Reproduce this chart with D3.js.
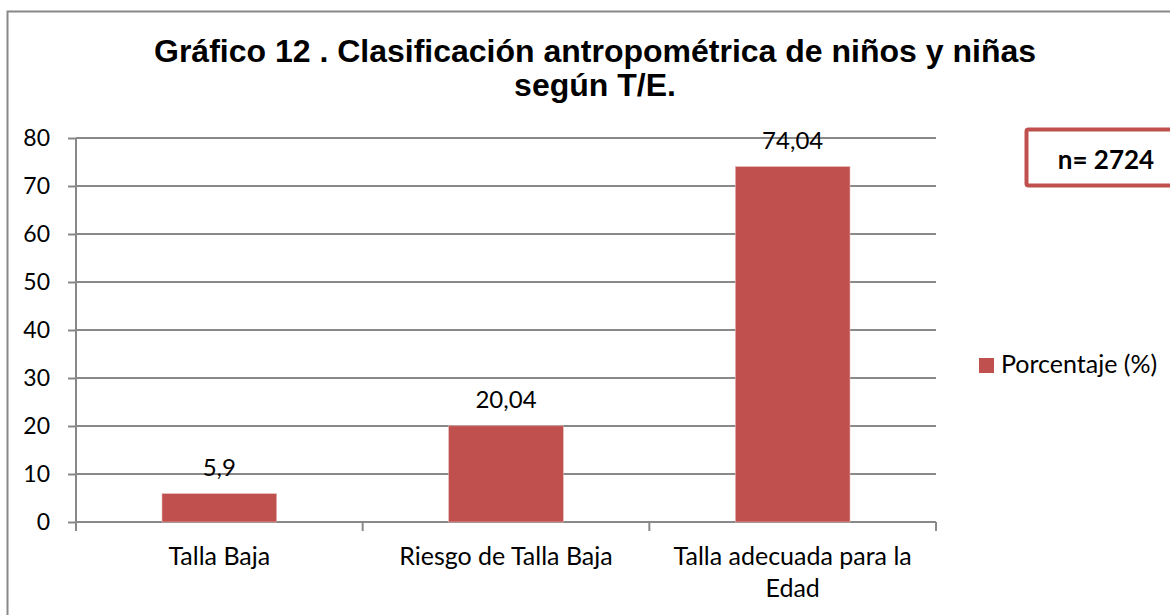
<!DOCTYPE html>
<html><head><meta charset="utf-8">
<script src="https://cdn.jsdelivr.net/npm/d3@7"></script>
<style>body{margin:0;background:#fff}svg{display:block}</style>
</head><body>
<svg id="c" width="1170" height="615"></svg>
<script>
const categories = [["Talla Baja"], ["Riesgo de Talla Baja"], ["Talla adecuada para la", "Edad"]];
const values = [5.9, 20.04, 74.04];
const valueLabels = ["5,9", "20,04", "74,04"];
const yTicks = [0, 10, 20, 30, 40, 50, 60, 70, 80];
const titleLines = ["Gráfico 12 . Clasificación antropométrica de niños y niñas", "según T/E."];
const seriesName = "Porcentaje (%)";
const noteText = "n= 2724";

const svg = d3.select("#c");
const font = "Lato, 'Open Sans', sans-serif";
const barColor = "#c0504d";
const gridColor = "#898989";

// outer border
svg.append("rect").attr("x", 7.5).attr("y", 11.5).attr("width", 1200).attr("height", 700)
  .attr("fill", "#fff").attr("stroke", "#888").attr("stroke-width", 2);

const L = 76, R = 936, T = 138, B = 522;
const x = d3.scaleBand().domain(d3.range(values.length)).range([L, R]).paddingInner(0.6).paddingOuter(0.3);
const y = d3.scaleLinear().domain([0, 80]).range([B, T]);

// title
const title = svg.append("text").attr("text-anchor", "middle")
  .attr("font-family", "'Liberation Sans', Arial, sans-serif").attr("font-weight", "bold")
  .attr("font-size", 32).attr("fill", "#000");
titleLines.forEach((t, i) => title.append("tspan").attr("x", 595).attr("y", 62 + i * 34).text(t));

// gridlines + y axis
const yAxis = d3.axisLeft(y).tickValues(yTicks).tickSize(8).tickPadding(18);
const gy = svg.append("g").attr("transform", `translate(${L},0)`).call(yAxis);
gy.select(".domain").attr("stroke", gridColor).attr("stroke-width", 2).attr("d", `M0,${T}V${B}`);
gy.selectAll(".tick line").attr("stroke", gridColor).attr("stroke-width", 2);
gy.selectAll(".tick text").attr("font-family", font).attr("font-size", 23).attr("fill", "#000");

const grid = svg.append("g");
grid.selectAll("line").data(yTicks.filter(d => d > 0)).join("line")
  .attr("x1", L).attr("x2", R).attr("y1", d => y(d)).attr("y2", d => y(d))
  .attr("stroke", gridColor).attr("stroke-width", 2);

// x axis
const xb = d3.scaleLinear().domain([0, values.length]).range([L, R]);
const gx = svg.append("g");
gx.append("line").attr("x1", L).attr("x2", R).attr("y1", B).attr("y2", B).attr("stroke", gridColor).attr("stroke-width", 2);
gx.selectAll("line.t").data(d3.range(values.length + 1)).join("line").attr("class", "t")
  .attr("x1", d => xb(d)).attr("x2", d => xb(d)).attr("y1", B).attr("y2", B + 9)
  .attr("stroke", gridColor).attr("stroke-width", 2);

// bars
svg.append("g").selectAll("rect").data(values).join("rect")
  .attr("x", (d, i) => x(i)).attr("width", x.bandwidth())
  .attr("y", d => y(d)).attr("height", d => B - y(d))
  .attr("fill", barColor).attr("stroke", "#e6b9b8").attr("stroke-width", 0.6);

// value labels
svg.append("g").selectAll("text").data(values).join("text")
  .attr("x", (d, i) => x(i) + x.bandwidth() / 2).attr("y", d => y(d) - 18)
  .attr("text-anchor", "middle").attr("font-family", font).attr("font-size", 24).attr("fill", "#000")
  .text((d, i) => valueLabels[i]);

// category labels
const cl = svg.append("g").selectAll("text").data(categories).join("text")
  .attr("text-anchor", "middle").attr("font-family", font).attr("font-size", 25).attr("fill", "#000");
cl.each(function(lines, i) {
  const t = d3.select(this);
  lines.forEach((s, j) => t.append("tspan").attr("x", x(i) + x.bandwidth() / 2).attr("y", 565 + j * 32).text(s));
});

// legend
svg.append("rect").attr("x", 979).attr("y", 358).attr("width", 15).attr("height", 15).attr("fill", barColor);
svg.append("text").attr("x", 1001).attr("y", 373).attr("font-family", font).attr("font-size", 25)
  .attr("fill", "#000").text(seriesName);

// n box
svg.append("rect").attr("x", 1026.5).attr("y", 129.5).attr("width", 200).attr("height", 56).attr("rx", 2)
  .attr("fill", "#fff").attr("stroke", barColor).attr("stroke-width", 4);
svg.append("text").attr("x", 1106).attr("y", 169).attr("text-anchor", "middle").attr("font-family", font)
  .attr("font-weight", "bold").attr("font-size", 26).attr("fill", "#000").text(noteText);
</script>
</body></html>
